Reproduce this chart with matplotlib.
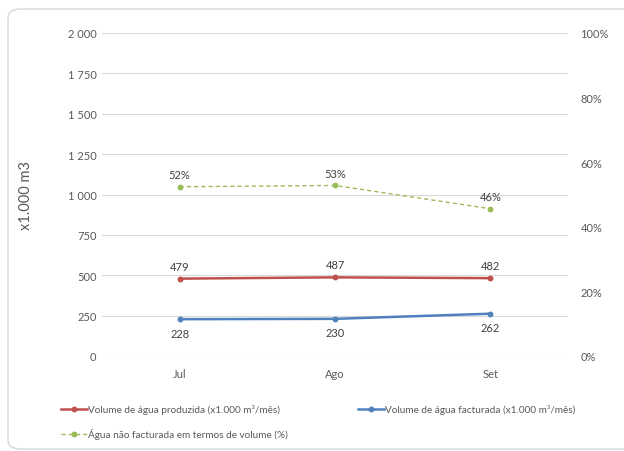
import matplotlib.pyplot as plt
from matplotlib.lines import Line2D
from matplotlib.patches import FancyBboxPatch
from matplotlib.ticker import FuncFormatter, PercentFormatter

plt.rcParams['font.family'] = ['Lato', 'DejaVu Sans']

months = ["Jul", "Ago", "Set"]
produzida = [479, 487, 482]
facturada = [228, 230, 262]
nao_facturada = [0.524, 0.528, 0.456]

grey = "#595959"
red = "#C0504D"
blue = "#4F81BD"
green = "#9BBB59"

fig = plt.figure(figsize=(6.24, 4.52), dpi=100)
fig.patches.append(FancyBboxPatch((8 / 624, 2 / 452), 1.2, 440 / 452,
                                  boxstyle="round,pad=0,rounding_size=0.02",
                                  transform=fig.transFigure, fc="none",
                                  ec="#d9d9d9", lw=1, zorder=-1))

ax = fig.add_axes([102 / 624, 1 - 357 / 452, 466 / 624, 323 / 452])
ax.set_facecolor("none")
x = range(len(months))

ax.plot(x, produzida, color=red, lw=1.8, marker="o", ms=3.2, zorder=3)
ax.plot(x, facturada, color=blue, lw=1.8, marker="o", ms=3.2, zorder=3)
for i in x:
    ax.annotate(str(produzida[i]), (i, produzida[i]), xytext=(0, 5),
                textcoords="offset points", ha="center", va="bottom",
                fontsize=8, color="#404040")
    ax.annotate(str(facturada[i]), (i, facturada[i]), xytext=(0, -6),
                textcoords="offset points", ha="center", va="top",
                fontsize=8, color="#404040")

ax.set_xlim(-0.5, 2.5)
ax.set_ylim(0, 2000)
ax.set_yticks(range(0, 2001, 250))
ax.yaxis.set_major_formatter(FuncFormatter(lambda v, p: f"{int(v):,}".replace(",", " ")))
ax.set_xticks(list(x))
ax.set_xticklabels(months)
ax.grid(axis="y", color="#d9d9d9", lw=0.8)
ax.set_axisbelow(True)
for s in ax.spines.values():
    s.set_visible(False)
ax.tick_params(length=0, colors=grey, labelsize=8)
ax.tick_params(axis="y", pad=4)
ax.tick_params(axis="x", pad=9)
ax.set_ylabel("x1.000 m3", fontsize=10.5, color=grey)
ax.yaxis.set_label_coords(-(102 - 33) / 466, 0.5)

ax2 = ax.twinx()
ax2.plot(x, nao_facturada, color=green, lw=1, ls=(0, (3, 2.2)), marker="o", ms=3.2)
for i in x:
    ax2.annotate(f"{nao_facturada[i]:.0%}", (i, nao_facturada[i]), xytext=(0, 5),
                 textcoords="offset points", ha="center", va="bottom",
                 fontsize=8, color="#404040")
ax2.set_ylim(0, 1)
ax2.set_yticks([0, 0.2, 0.4, 0.6, 0.8, 1.0])
ax2.yaxis.set_major_formatter(PercentFormatter(1.0, decimals=0))
for s in ax2.spines.values():
    s.set_visible(False)
ax2.tick_params(length=0, colors=grey, labelsize=8, pad=9)

handles = [
    Line2D([], [], color=red, lw=1.8, marker="o", ms=3.2),
    Line2D([], [], color=green, lw=1, ls=(0, (3, 2.2)), marker="o", ms=3.2),
    Line2D([], [], color=blue, lw=1.8, marker="o", ms=3.2),
]
labels = [
    "Volume de água produzida (x1.000 m³/mês)",
    "Água não facturada em termos de volume (%)",
    "Volume de água facturada (x1.000 m³/mês)",
]
fig.legend(handles, labels, ncol=2, loc="upper left",
           bbox_to_anchor=(52 / 624, 1 - 396 / 452), frameon=False,
           fontsize=7.2, labelcolor=grey, handlelength=2.6, handletextpad=0.1,
           columnspacing=7.0, labelspacing=1.45)

fig.savefig("out.png", dpi=100)
